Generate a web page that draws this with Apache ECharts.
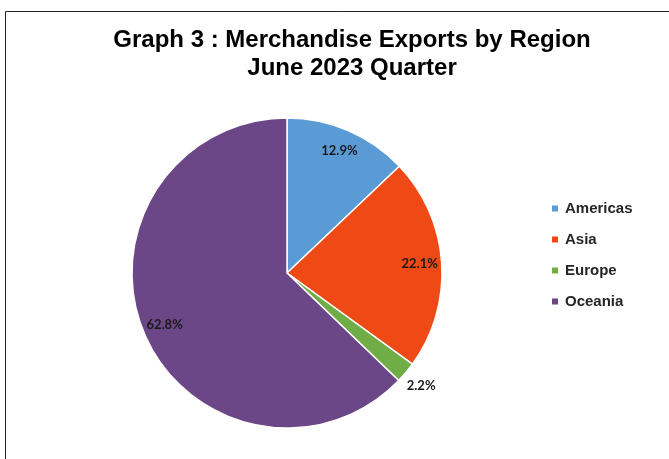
<!DOCTYPE html>
<html>
<head>
<meta charset="utf-8">
<script src="https://cdn.jsdelivr.net/npm/echarts@6/dist/echarts.min.js"></script>
<style>
  html, body { margin: 0; padding: 0; background: #fff; }
  #chart { width: 669px; height: 459px; }
</style>
</head>
<body>
<div id="chart"></div>
<script>
// Share of merchandise exports by region, June 2023 quarter (%)
const regions = ['Americas', 'Asia', 'Europe', 'Oceania'];
const shares = [12.9, 22.1, 2.2, 62.8];
const colors = ['#5B9BD5', '#EF4A16', '#70AD47', '#6C4788'];
// Which slices carry their label inside, and which outside the rim
const insideLabel = [true, true, false, true];

const chart = echarts.init(document.getElementById('chart'));

const center = [287, 273];
const labelFont = { fontFamily: 'Lato', fontWeight: 'bold', fontSize: 13, color: '#1a1a1a' };
const fmt = p => p.value.toFixed(1) + '%';

function labelSeries(radius, showFn) {
  return {
    type: 'pie',
    silent: true,
    center: center,
    radius: radius,
    startAngle: 90,
    clockwise: true,
    legendHoverLink: false,
    itemStyle: { color: 'rgba(0,0,0,0)' },
    label: Object.assign({ show: true, position: 'inside', formatter: fmt }, labelFont),
    labelLine: { show: false },
    emphasis: { disabled: true },
    data: regions.map((name, i) => ({
      name: name + ' ',
      value: shares[i],
      label: { show: showFn(i) }
    }))
  };
}

chart.setOption({
  animation: false,
  backgroundColor: '#fff',
  title: {
    text: 'Graph 3 : Merchandise Exports by Region\nJune 2023 Quarter',
    left: 347,
    textAlign: 'center',
    top: 21,
    textStyle: {
      fontFamily: 'Liberation Sans',
      fontWeight: 'bold',
      fontSize: 24,
      lineHeight: 28,
      color: '#000'
    }
  },
  legend: {
    orient: 'vertical',
    left: 547,
    top: 195,
    icon: 'rect',
    itemWidth: 6,
    itemHeight: 6,
    itemGap: 14,
    itemStyle: { borderWidth: 0 },
    data: regions,
    textStyle: {
      fontFamily: 'Liberation Sans',
      fontWeight: 'bold',
      fontSize: 15,
      lineHeight: 17,
      color: '#262626',
      padding: [0, 0, 0, 2]
    }
  },
  graphic: [{
    type: 'rect',
    shape: { x: 5.5, y: 11.5, width: 700, height: 500 },
    style: { fill: 'none', stroke: '#222', lineWidth: 1 },
    silent: true
  }],
  series: [
    {
      type: 'pie',
      center: center,
      radius: [0, 155],
      startAngle: 90,
      clockwise: true,
      label: { show: false },
      labelLine: { show: false },
      itemStyle: { borderColor: '#fff', borderWidth: 1.5 },
      emphasis: { disabled: true },
      data: regions.map((name, i) => ({
        name: name,
        value: shares[i],
        itemStyle: { color: colors[i] }
      }))
    },
    labelSeries([105, 155], i => insideLabel[i]),
    labelSeries([150, 194], i => !insideLabel[i])
  ]
});
</script>
</body>
</html>
